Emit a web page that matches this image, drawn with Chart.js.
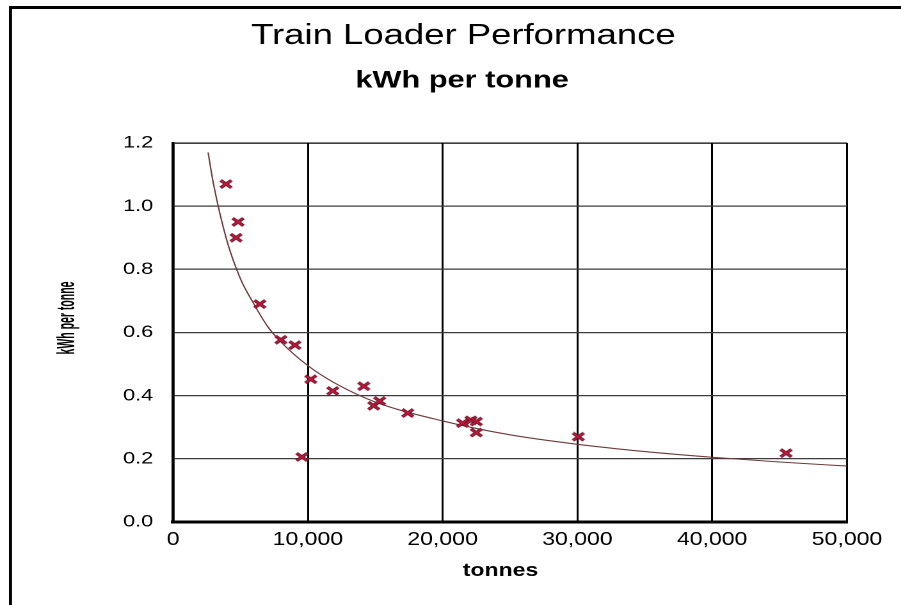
<!DOCTYPE html>
<html>
<head>
<meta charset="utf-8">
<script src="https://cdn.jsdelivr.net/npm/chart.js@4.4.1/dist/chart.umd.min.js"></script>
<style>
  html, body { margin: 0; padding: 0; background: #fff; overflow: hidden; }
  /* the reference is horizontally stretched, so draw narrow and stretch */
  #wrap { width: 704px; height: 605px; transform: scaleX(1.28); transform-origin: 0 0; }
</style>
</head>
<body>
<div id="wrap"><canvas id="chart" width="704" height="605"></canvas></div>
<script>
// --- Data ---
const tonnes = [3930, 4820, 4670, 6440, 8000, 9040, 10220, 11850, 14150, 14890, 15330, 17410, 9560, 21480, 22100, 22500, 22500, 30070, 45480];
const kwhPerTonne = [1.07, 0.95, 0.90, 0.69, 0.577, 0.56, 0.452, 0.415, 0.43, 0.368, 0.383, 0.345, 0.206, 0.313, 0.322, 0.318, 0.283, 0.27, 0.218];

// fitted curve, read at a few points
const trendTonnes = [2600, 3000, 4000, 5000, 6000, 7000, 8000, 10000, 12000, 15000, 20000, 25000, 30000, 35000, 40000, 45000, 50000];
const trendKwh = [1.17, 1.07, 0.89, 0.77, 0.69, 0.62, 0.57, 0.495, 0.44, 0.38, 0.32, 0.276, 0.246, 0.223, 0.205, 0.19, 0.177];

const xTicks = [0, 10000, 20000, 30000, 40000, 50000];
const yTicks = [0, 0.2, 0.4, 0.6, 0.8, 1.0, 1.2];

const FONT = "'Liberation Sans', Arial, sans-serif";

// --- Marker: dark-edged red cross ---
function makeMarker(done) {
  const c = document.createElement("canvas");
  c.width = 44; c.height = 40;
  const g = c.getContext("2d");
  g.lineCap = "butt";
  function cross(color, w) {
    g.strokeStyle = color;
    g.lineWidth = w;
    g.beginPath();
    g.moveTo(5, 5); g.lineTo(39, 35);
    g.moveTo(39, 5); g.lineTo(5, 35);
    g.stroke();
  }
  cross("#4a1f2e", 12);
  cross("#cf1238", 6);
  const img = new Image();
  img.onload = () => {
    img.width = 11;
    img.height = 10;
    done(img);
  };
  img.src = c.toDataURL();
}

// --- Frame and texts ---
const decor = {
  id: "decor",
  beforeDraw(chart) {
    const ctx = chart.ctx;
    ctx.save();
    ctx.fillStyle = "#fff";
    ctx.fillRect(0, 0, chart.width, chart.height);
    ctx.fillStyle = "#000";
    ctx.fillRect(7, 6, 2.4, chart.height - 6);
    ctx.fillRect(7, 6, chart.width - 7, 3);
    ctx.restore();
  },
  afterDraw(chart) {
    const ctx = chart.ctx;
    ctx.save();
    ctx.fillStyle = "#000";
    ctx.textAlign = "center";
    ctx.textBaseline = "middle";

    ctx.font = "28.5px " + FONT;
    ctx.fillText("Train Loader Performance", 362, 36);

    ctx.font = "bold 24px " + FONT;
    ctx.fillText("kWh per tonne", 361, 81);

    ctx.font = "bold 18px " + FONT;
    ctx.fillText("tonnes", 391, 571);

    // y title: condensed along its length, thick across
    ctx.translate(52.5, 318);
    ctx.rotate(-Math.PI / 2);
    ctx.scale(0.75, 1.4);
    ctx.font = "bold 14px " + FONT;
    ctx.fillText("kWh per tonne", 0, 0);
    ctx.restore();
  }
};

function initChart(marker) {
  const ctx = document.getElementById("chart").getContext("2d");

  new Chart(ctx, {
    type: "scatter",
    data: {
      datasets: [
        {
          label: "kWh per tonne",
          data: tonnes.map((t, i) => ({ x: t, y: kwhPerTonne[i] })),
          pointStyle: marker,
          pointRadius: 5
        },
        {
          label: "trend",
          data: trendTonnes.map((t, i) => ({ x: t, y: trendKwh[i] })),
          showLine: true,
          borderColor: "#6e3a3a",
          borderWidth: 1.1,
          pointRadius: 0,
          cubicInterpolationMode: "monotone"
        }
      ]
    },
    options: {
      responsive: false,
      devicePixelRatio: 2,
      animation: false,
      layout: { padding: { top: 143, right: 42.3, left: 0, bottom: 0 } },
      plugins: {
        legend: { display: false },
        tooltip: { enabled: false },
        title: { display: false }
      },
      scales: {
        x: {
          type: "linear",
          min: 0,
          max: 50000,
          afterBuildTicks: (s) => { s.ticks = xTicks.map(v => ({ value: v })); },
          afterFit: (s) => { s.height = 83; },
          grid: { color: "#000", lineWidth: 1.5, drawTicks: false },
          border: { color: "#000", width: 3 },
          ticks: {
            padding: 7,
            color: "#000",
            font: { family: FONT, size: 18 },
            maxRotation: 0,
            callback: (v) => Number(v).toLocaleString("en-US")
          }
        },
        y: {
          type: "linear",
          min: 0,
          max: 1.2,
          afterBuildTicks: (s) => { s.ticks = yTicks.map(v => ({ value: v })); },
          afterFit: (s) => { s.width = 135.2; },
          grid: {
            color: (c) => (c.tick && c.tick.value === 1.2 ? "#000" : "#3c3c3c"),
            lineWidth: 1.2,
            drawTicks: false
          },
          border: { color: "#000", width: 2.4 },
          ticks: {
            padding: 15.5,
            color: "#000",
            font: { family: FONT, size: 17 },
            callback: (v) => Number(v).toFixed(1)
          }
        }
      }
    },
    plugins: [decor]
  });
}

window.addEventListener("DOMContentLoaded", () => {
  makeMarker(initChart);
});
</script>
</body>
</html>
